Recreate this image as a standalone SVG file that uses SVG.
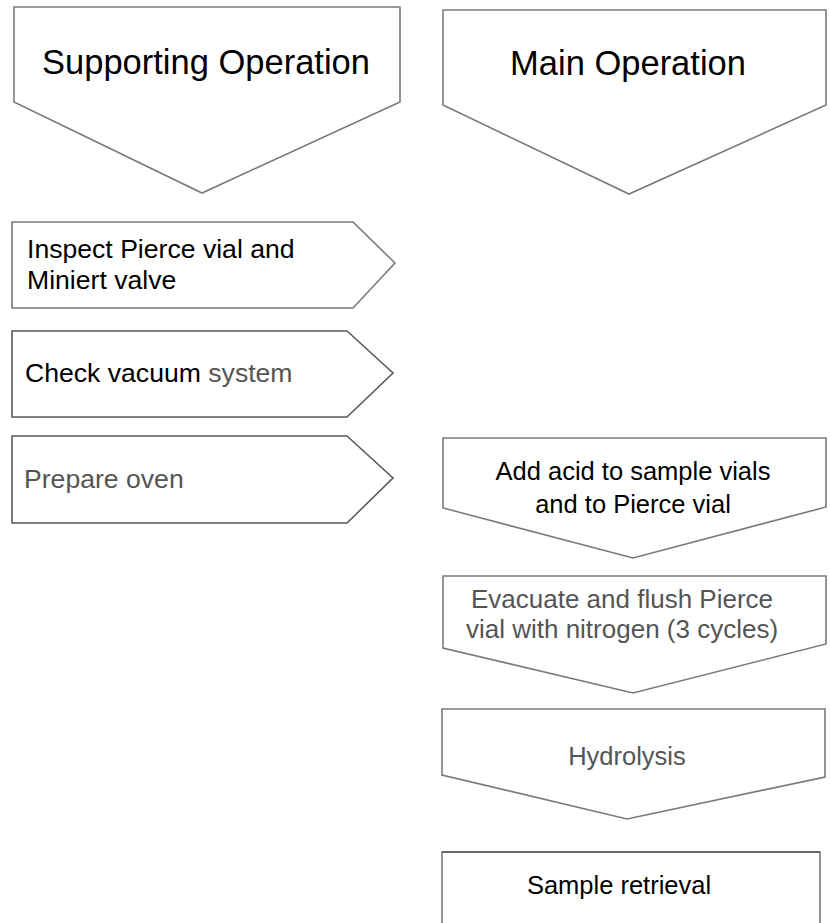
<svg xmlns="http://www.w3.org/2000/svg" width="830" height="923" viewBox="0 0 830 923">
<style>
.shape{fill:#ffffff;stroke:#7a7a7a;stroke-width:1.6;stroke-linejoin:miter}
.dark{stroke:#5a5a5a}
.hdr{font-family:"Liberation Sans",Arial,sans-serif;font-size:34.5px;fill:#000}
.t{font-family:"Liberation Sans",Arial,sans-serif;font-size:25.5px;fill:#000}
.l{font-size:26.6px}
.g{fill:#555}
.c{text-anchor:middle}
</style>
<rect width="830" height="923" fill="#ffffff"/>
<g id="supporting-operation">
<polygon class="shape" points="14,7 400,7 400,102 202,193 14,102"/>
<text class="hdr c" x="206" y="74">Supporting Operation</text>
</g>
<g id="main-operation">
<polygon class="shape" points="443,10 826,10 826,105 629,194 443,105"/>
<text class="hdr c" x="628" y="75">Main Operation</text>
</g>
<g id="inspect">
<polygon class="shape" points="12,222 353,222 395,263 353,308 12,308"/>
<text class="t l" x="27" y="258">Inspect Pierce vial and</text>
<text class="t l" x="27" y="289">Miniert valve</text>
</g>
<g id="check-vacuum">
<polygon class="shape dark" points="12,331 347,331 393,373 347,417 12,417"/>
<text class="t l" x="25" y="382">Check vacuum <tspan class="g">system</tspan></text>
</g>
<g id="prepare-oven">
<polygon class="shape dark" points="12,436 347,436 393,478 347,523 12,523"/>
<text class="t l g" x="24" y="488">Prepare oven</text>
</g>
<g id="add-acid">
<polygon class="shape" points="443,438 826,438 826,507 633,558 443,508"/>
<text class="t c" x="633" y="480">Add acid to sample vials</text>
<text class="t c" x="633" y="513">and to Pierce vial</text>
</g>
<g id="evacuate">
<polygon class="shape" points="443,576 826,576 826,644 633,693 443,648"/>
<text class="t g c" x="622" y="608" style="font-size:26px">Evacuate and flush Pierce</text>
<text class="t g c" x="622" y="638" style="font-size:26px">vial with nitrogen (3 cycles)</text>
</g>
<g id="hydrolysis">
<polygon class="shape" points="442,709 825,709 825,777 627,819 442,775"/>
<text class="t g c" x="627" y="765">Hydrolysis</text>
</g>
<g id="sample-retrieval">
<path class="shape" d="M442,923 V852 H820 V923" fill="#fff"/>
<line x1="442" y1="852" x2="820" y2="852" stroke="#666" stroke-width="2.2"/>
<text class="t c" x="619" y="894">Sample retrieval</text>
</g>
<g id="connectors"></g>
</svg>
